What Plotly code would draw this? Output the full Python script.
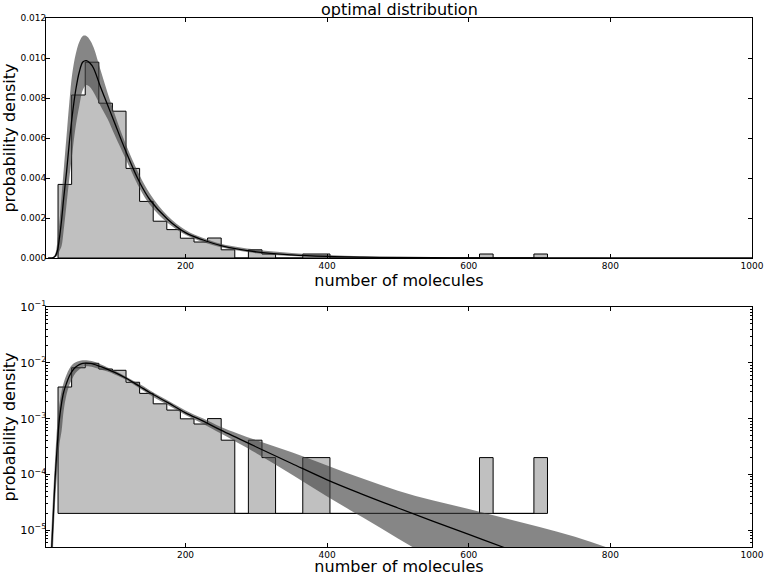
import numpy as np
import plotly.graph_objects as go

# histogram of the sampled molecule counts (density per bin)
bin_start = 20.0
bin_width = 19.2
hist_density = [
    0.00368, 0.00815, 0.00979, 0.00774, 0.00734, 0.00448, 0.00283, 0.00184,
    0.00142, 0.00099, 0.00080, 0.00100, 0.00041, 0.0, 0.00041, 0.00020,
    0.0, 0.0, 0.00020, 0.00020, 0.0, 0.0, 0.0, 0.0,
    0.0, 0.0, 0.0, 0.0, 0.0, 0.0, 0.0, 0.00020,
    0.0, 0.0, 0.0, 0.00020,
]
log_floor = 2e-5  # bottom of the step histogram on the log panel

# fitted distribution and its confidence band
curve_x = [6, 9, 11, 13, 16, 19, 22, 25, 28, 32, 36, 40, 45, 50, 55, 60, 65, 70,
           80, 90, 100, 115, 135, 150, 175, 200, 225, 250, 300, 350, 400, 450,
           500, 550, 600, 650, 700, 750, 800, 850, 900, 1000]
fit_mid = [2e-8, 1e-6, 4.5e-6, 1.5e-5, 9e-5, 3.5e-4, 1.0e-3, 1.9e-3, 3.0e-3, 4.3e-3,
           5.8e-3, 7.1e-3, 8.4e-3, 9.3e-3, 9.8e-3, 9.87e-3, 9.75e-3, 9.5e-3,
           8.55e-3, 7.65e-3, 6.75e-3, 5.4e-3, 3.8e-3, 2.9e-3, 1.93e-3, 1.27e-3,
           9.0e-4, 6.2e-4, 3.1e-4, 1.57e-4, 8.0e-5, 4.4e-5, 2.5e-5, 1.44e-5,
           8.4e-6, 4.9e-6, 2.9e-6, 1.75e-6, 1.05e-6, 6.3e-7, 3.8e-7, 1.6e-7]
fit_hi = [1e-7, 3e-6, 1.2e-5, 4e-5, 2e-4, 8e-4, 1.8e-3, 3.1e-3, 4.4e-3, 6.1e-3,
          7.8e-3, 9.2e-3, 1.02e-2, 1.08e-2, 1.11e-2, 1.11e-2, 1.09e-2, 1.055e-2,
          9.4e-3, 8.25e-3, 7.2e-3, 5.75e-3, 4.15e-3, 3.2e-3, 2.1e-3, 1.4e-3,
          1.0e-3, 7.1e-4, 4.1e-4, 2.5e-4, 1.45e-4, 8.4e-5, 5.1e-5, 3.4e-5,
          2.4e-5, 1.66e-5, 1.14e-5, 7.6e-6, 4.7e-6, 3.0e-6, 1.9e-6, 8e-7]
fit_lo = [1e-9, 3e-7, 1.5e-6, 5e-6, 3.5e-5, 1.2e-4, 3.5e-4, 6e-4, 1.4e-3, 2.7e-3,
          4.0e-3, 5.2e-3, 6.6e-3, 7.6e-3, 8.4e-3, 8.65e-3, 8.55e-3, 8.3e-3,
          7.6e-3, 6.95e-3, 6.15e-3, 5.0e-3, 3.5e-3, 2.65e-3, 1.75e-3, 1.16e-3,
          8.0e-4, 5.4e-4, 2.4e-4, 1.0e-4, 4.0e-5, 1.7e-5, 7.1e-6, 3.0e-6,
          1.2e-6, 5e-7, 2e-7, 8e-8, 3e-8, 1e-8, 4e-9, 5e-10]

HIST_FILL = "#c0c0c0"
BAND_FILL = "rgba(64,64,64,0.63)"
FONT = "DejaVu Sans"

edges = bin_start + bin_width * np.arange(len(hist_density) + 1)


def step_outline(dens, base):
    """Closed stepfilled polygon like matplotlib's histtype='stepfilled'."""
    xs, ys = [edges[0]], [base]
    for i, d in enumerate(dens):
        h = d if d > 0 else base
        xs += [edges[i], edges[i + 1]]
        ys += [h, h]
    xs += [edges[-1], edges[0]]
    ys += [base, base]
    return xs, ys


fig = go.Figure()

for row, base in [(1, 0.0), (2, log_floor)]:
    xa = "x" if row == 1 else "x2"
    ya = "y" if row == 1 else "y2"
    hx, hy = step_outline(hist_density, base)
    fig.add_trace(go.Scatter(
        x=hx, y=hy, mode="lines", fill="toself", fillcolor=HIST_FILL,
        line=dict(color="black", width=1), xaxis=xa, yaxis=ya,
    ))
    fig.add_trace(go.Scatter(
        x=curve_x, y=fit_lo, mode="lines", line=dict(width=0, shape="spline"),
        xaxis=xa, yaxis=ya,
    ))
    fig.add_trace(go.Scatter(
        x=curve_x, y=fit_hi, mode="lines", line=dict(width=0, shape="spline"),
        fill="tonexty", fillcolor=BAND_FILL, xaxis=xa, yaxis=ya,
    ))
    fig.add_trace(go.Scatter(
        x=curve_x, y=fit_mid, mode="lines",
        line=dict(color="black", width=1.3, shape="spline"),
        xaxis=xa, yaxis=ya,
    ))

axis_common = dict(
    showline=True, linecolor="black", linewidth=1, mirror="ticks",
    ticks="inside", ticklen=4, tickcolor="black", showgrid=False,
    zeroline=False, automargin=False, ticklabeloverflow="allow",
    tickfont=dict(family=FONT, size=9, color="black"),
)
title_font = dict(family=FONT, size=16, color="black")

fig.update_layout(
    template="none",
    width=764, height=576,
    margin=dict(l=46, r=12, t=18, b=29),
    showlegend=False,
    plot_bgcolor="white", paper_bgcolor="white",
    xaxis=dict(axis_common, domain=[0, 1], anchor="y", range=[3, 1000],
               tickvals=[200, 400, 600, 800, 1000], ticklabelstandoff=-1,
               title=dict(text="number of molecules", font=title_font, standoff=0)),
    yaxis=dict(axis_common, domain=[0.5463, 1], anchor="x", range=[0, 0.012],
               dtick=0.002, tick0=0, tickformat=".3f", ticklabelstandoff=-3,
               title=dict(text="probability density", font=title_font, standoff=2)),
    xaxis2=dict(axis_common, domain=[0, 1], anchor="y2", range=[3, 1000],
                tickvals=[200, 400, 600, 800, 1000], ticklabelstandoff=-1,
                title=dict(text="number of molecules", font=title_font, standoff=0)),
    yaxis2=dict(axis_common, domain=[0, 0.4537], anchor="x2", type="log",
                range=[np.log10(5e-6), -1], dtick=1, exponentformat="power",
                ticklabelstandoff=-3,
                minor=dict(ticks="inside", ticklen=2, tickcolor="black", dtick="D1",
                           showgrid=False),
                title=dict(text="probability density", font=title_font, standoff=2)),
    annotations=[dict(
        text="optimal distribution", xref="paper", yref="paper", x=0.5, y=1,
        yanchor="bottom", yshift=-3, showarrow=False,
        font=dict(family=FONT, size=16, color="black"),
    )],
)

# drop the browser's default page margin so the figure fills the window
fig.write_html("out.html", config={"displayModeBar": False},
               post_script="document.body.style.margin = '0';")
